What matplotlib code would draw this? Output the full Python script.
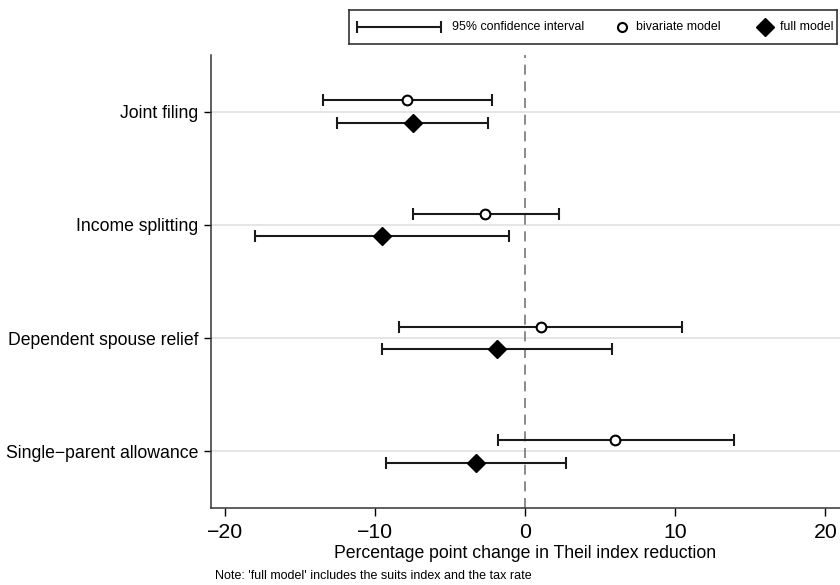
import matplotlib
matplotlib.use('Agg')
from matplotlib import pyplot as plt

plt.rcParams['font.family'] = ['Liberation Sans', 'DejaVu Sans']

# Данные (оценки и 95% доверительные интервалы)
categories = ['Joint filing', 'Income splitting', 'Dependent spouse relief', 'Single\u2212parent allowance']
biv_est = [-7.85, -2.65, 1.05, 6.0]
biv_lo = [-13.5, -7.5, -8.4, -1.8]
biv_hi = [-2.2, 2.25, 10.45, 13.9]
full_est = [-7.5, -9.55, -1.9, -3.3]
full_lo = [-12.55, -18.0, -9.55, -9.3]
full_hi = [-2.45, -1.1, 5.8, 2.7]
xticks = [-20, -10, 0, 10, 20]

fig = plt.figure(figsize=(8.4, 5.85), dpi=100)
ax = fig.add_axes([0.2512, 0.1316, 0.7488, 0.7744])

n = len(categories)
ypos = [n - i for i in range(n)]
off = 0.1

# горизонтальная сетка
for y in ypos:
    ax.axhline(y, color='#e3e3e3', lw=1.3, zorder=0)
ax.axvline(0, color='#777777', lw=1.2, ls=(0, (6, 4)), zorder=1)

ekw = dict(fmt='none', ecolor='#1a1a1a', elinewidth=1.5, capsize=4.5, capthick=1.5, zorder=2)
yb = [y + off for y in ypos]
yf = [y - off for y in ypos]
ax.errorbar(biv_est, yb,
            xerr=[[e - l for e, l in zip(biv_est, biv_lo)], [h - e for e, h in zip(biv_est, biv_hi)]],
            **ekw)
ax.errorbar(full_est, yf,
            xerr=[[e - l for e, l in zip(full_est, full_lo)], [h - e for e, h in zip(full_est, full_hi)]],
            **ekw)
ax.plot(biv_est, yb, 'o', ms=7, mfc='white', mec='black', mew=1.5, ls='none', zorder=3)
ax.plot(full_est, yf, 'D', ms=9.5, mfc='black', mec='black', ls='none', zorder=3)

ax.set_xlim(-20.93, 20.98)
ax.set_ylim(0.5, 4.5)
ax.set_yticks(ypos)
ax.set_yticklabels(categories, fontsize=12.7)
ax.set_xticks(xticks)
ax.set_xticklabels([str(t).replace('-', '\u2212') for t in xticks], fontsize=15.3)
ax.tick_params(axis='y', length=5, width=1, pad=4)
ax.tick_params(axis='x', length=6, width=1, pad=5)
ax.set_xlabel('Percentage point change in Theil index reduction', fontsize=12.7, labelpad=2)
for s in ['top', 'right']:
    ax.spines[s].set_visible(False)
for s in ['left', 'bottom']:
    ax.spines[s].set_linewidth(1.1)
    ax.spines[s].set_color('#333333')

# легенда вручную
lg = fig.add_axes([349 / 840, 1 - 44 / 585, 488 / 840, 34 / 585])
lg.set_xlim(0, 488)
lg.set_ylim(0, 34)
lg.set_xticks([])
lg.set_yticks([])
for s in lg.spines.values():
    s.set_linewidth(1.2)
    s.set_color('#333333')
lg.errorbar([50], [17], xerr=[[42], [42]], **ekw)
lg.text(103, 17, '95% confidence interval', fontsize=8.9, va='center')
lg.plot([273], [17], 'o', ms=6.5, mfc='white', mec='black', mew=1.5)
lg.text(287, 17, 'bivariate model', fontsize=8.9, va='center')
lg.plot([416], [17], 'D', ms=9, mfc='black', mec='black')
lg.text(431, 17, 'full model', fontsize=8.9, va='center')

fig.text(215 / 840, 1 - 576 / 585, "Note: 'full model' includes the suits index and the tax rate",
         fontsize=9, va='center')

fig.savefig('out.png', dpi=100)
